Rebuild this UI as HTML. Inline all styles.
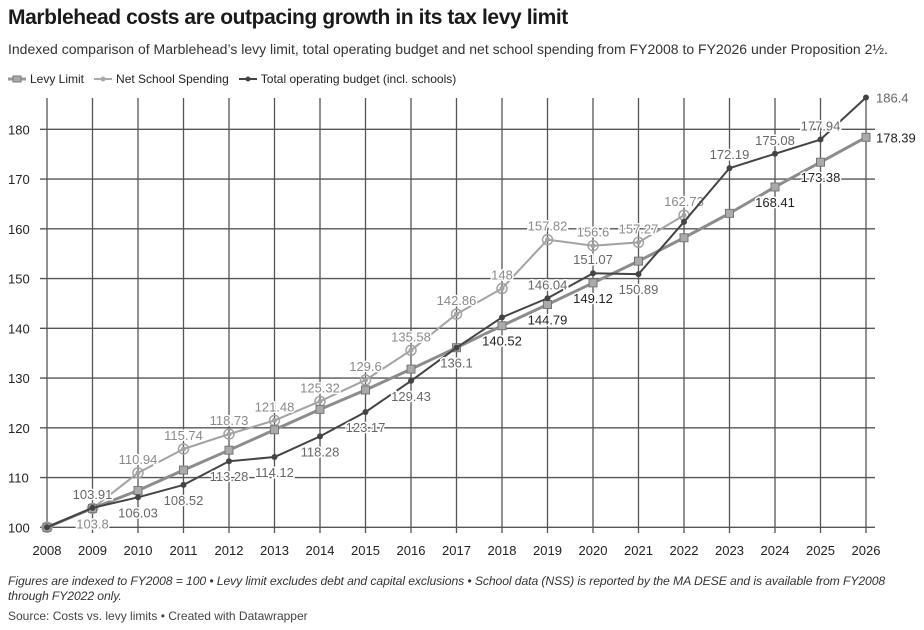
<!DOCTYPE html>
<html><head><meta charset="utf-8"><style>
body{margin:0;background:#fff;width:924px;height:630px;overflow:hidden;font-family:"Liberation Sans",sans-serif;}
#title{position:absolute;left:8px;top:6px;font-size:21px;font-weight:bold;color:#1a1a1a;letter-spacing:-0.4px}
#sub{position:absolute;left:8px;top:41px;font-size:14px;color:#333}
#legend{position:absolute;left:8px;top:72px;font-size:12px;color:#222;display:flex;gap:10px}
.lg{display:flex;align-items:center;gap:4px}
#notes{position:absolute;left:8px;top:574px;font-size:12.2px;font-style:italic;color:#333;line-height:15px;width:916px;letter-spacing:-0.1px}
#src{position:absolute;left:8px;top:609px;font-size:12px;color:#444}
svg{position:absolute;left:0;top:0}
</style></head><body>
<div id="title">Marblehead costs are outpacing growth in its tax levy limit</div>
<div id="sub">Indexed comparison of Marblehead’s levy limit, total operating budget and net school spending from FY2008 to FY2026 under Proposition 2½.</div>
<div id="legend">
<span class="lg"><svg width="18" height="8" style="position:static"><line x1="0" y1="4" x2="18" y2="4" stroke="#999" stroke-width="3"/><rect x="5" y="1" width="8" height="6" fill="#aaa" stroke="#777"/></svg>Levy Limit</span>
<span class="lg"><svg width="18" height="8" style="position:static"><line x1="0" y1="4" x2="18" y2="4" stroke="#aaa" stroke-width="2"/><circle cx="9" cy="4" r="2.5" fill="#aaa"/></svg>Net School Spending</span>
<span class="lg"><svg width="18" height="8" style="position:static"><line x1="0" y1="4" x2="18" y2="4" stroke="#444" stroke-width="2"/><circle cx="9" cy="4" r="2.5" fill="#444"/></svg>Total operating budget (incl. schools)</span>
</div>
<svg id="chart" width="924" height="630"></svg>
<div id="notes">Figures are indexed to FY2008 = 100 • Levy limit excludes debt and capital exclusions • School data (NSS) is reported by the MA DESE and is available from FY2008 through FY2022 only.</div>
<div id="src">Source: Costs vs. levy limits • Created with Datawrapper</div>
<script>
const years=[2008,2009,2010,2011,2012,2013,2014,2015,2016,2017,2018,2019,2020,2021,2022,2023,2024,2025,2026];
const levy=[100,103.8,107.4,111.5,115.5,119.6,123.7,127.6,131.8,136.1,140.52,144.79,149.12,153.5,158.2,163.1,168.41,173.38,178.39];
const nss=[100,103.8,110.94,115.74,118.73,121.48,125.32,129.6,135.58,142.86,148,157.82,156.6,157.27,162.73];
const tob=[100,103.91,106.03,108.52,113.28,114.12,118.28,123.17,129.43,136.1,142.2,146.04,151.07,150.89,161.4,172.19,175.08,177.94,186.4];
const yTicks=[100,110,120,130,140,150,160,170,180];
const levyLabels=[null,null,null,null,null,null,null,null,null,null,"140.52","144.79","149.12",null,null,null,"168.41","173.38","178.39"];
const nssLabels=[null,"103.8","110.94","115.74","118.73","121.48","125.32","129.6","135.58","142.86","148","157.82","156.6","157.27","162.73"];
const tobLabels=[null,"103.91","106.03","108.52","113.28","114.12","118.28","123.17","129.43","136.1",null,"146.04","151.07","150.89",null,"172.19","175.08","177.94","186.4"];
const tobBelow=[0,0,1,1,1,1,1,1,1,1,0,0,0,1,0,0,0,0,0];
const nssBelow=[0,1,0,0,0,0,0,0,0,0,0,0,0,0,0];
const NS="http://www.w3.org/2000/svg";
const svg=document.getElementById('chart');
const x=y=>47+(y-2008)*45.5;
const yv=v=>527.3-(v-100)*4.975;
function el(t,a,p){const e=document.createElementNS(NS,t);for(const k in a)e.setAttribute(k,a[k]);(p||svg).appendChild(e);return e;}
const grid=el('g',{});


yTicks.forEach(t=>{
  const l=el('line',{x1:40,x2:875,y1:yv(t),y2:yv(t),stroke:'#555','stroke-width':1.3},grid);
  
  
  const tx=el('text',{x:8,y:yv(t)+5,'font-size':13,fill:'#222'});tx.textContent=t;
  
  
});
years.forEach(yr=>{
  const l=el('line',{x1:x(yr),x2:x(yr),y1:98,y2:533,stroke:'#555','stroke-width':1.3},grid);
  
  
  const tx=el('text',{x:x(yr),y:555,'font-size':13,fill:'#222','text-anchor':'middle'});tx.textContent=yr;
  
  
});
function series(vals,name,color,w,marker,labels,below,lc){
  const g=el('g',{});
  
  
  const pl=el('polyline',{points:vals.map((v,i)=>x(years[i])+','+yv(v)).join(' '),fill:'none',stroke:color,'stroke-width':w,'stroke-linejoin':'round'},g);
  
  
  vals.forEach((v,i)=>{
    let m;
    if(marker==='sq'){m=el('rect',{x:x(years[i])-4,y:yv(v)-4,width:8,height:8,fill:'#aaa',stroke:'#777'},g);}
    else if(marker==='ring'){m=el('circle',{cx:x(years[i]),cy:yv(v),r:5,fill:'none',stroke:color,'stroke-width':1.5},g);el('circle',{cx:x(years[i]),cy:yv(v),r:2.5,fill:color},g);}
    else{m=el('circle',{cx:x(years[i]),cy:yv(v),r:3,fill:color},g);}
    
    
    if(labels[i]){
      const last=i===years.length-1;
      const t=el('text',{x:last?x(years[i])+10:x(years[i]),y:last?yv(v)+5:(below[i]?yv(v)+20:yv(v)-9),'font-size':13,fill:lc,'text-anchor':last?'start':'middle',stroke:'#fff','stroke-width':3,'paint-order':'stroke'},g);
      t.textContent=labels[i];
      
      
    }
  });
}
series(nss,'net-school-spending','#a3a3a3',2,'ring',nssLabels,nssBelow,'#8a8a8a');
series(levy,'levy-limit','#8c8c8c',3,'sq',levyLabels,levy.map((v,i)=>i<18?1:0),'#222');
series(tob,'total-operating-budget','#444',2,'dot',tobLabels,tobBelow,'#666');
</script>
</body></html>
